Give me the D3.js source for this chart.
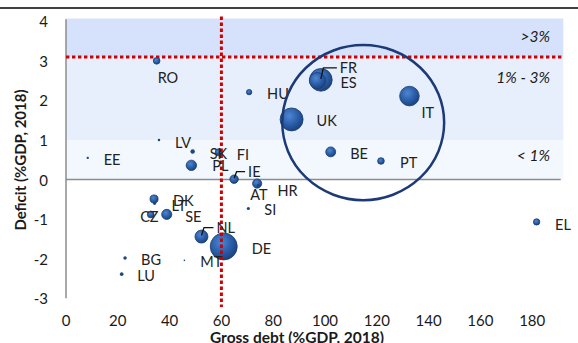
<!DOCTYPE html>
<html>
<head>
<meta charset="utf-8">
<script src="https://cdn.jsdelivr.net/npm/d3@7"></script>
<style>
  html, body { margin: 0; padding: 0; background: #fff; }
  svg { display: block; font-family: Lato, "Open Sans", sans-serif; }
</style>
</head>
<body>
<svg id="chart" width="578" height="343"></svg>
<script>
// EU member states, 2018: gross debt and deficit in % of GDP, bubble size = nominal GDP (bn EUR)
const countries = ["DE","UK","FR","IT","ES","NL","PL","SE","BE","AT","IE","DK","FI","CZ","RO","PT","EL","HU","SK","LU","BG","HR","SI","LT","LV","EE","MT"];
const debt      = [60.9, 87.1, 98.4, 132.6, 97.1, 52.3, 48.4, 38.9, 102.2, 73.8, 64.9, 34.0, 59.0, 32.7, 35.0, 121.6, 181.7, 70.7, 48.9, 21.5, 22.8, 74.3, 70.4, 34.2, 35.9, 8.4, 45.7];
const deficit   = [-1.69, 1.52, 2.52, 2.11, 2.50, -1.44, 0.36, -0.88, 0.70, -0.10, 0.01, -0.49, 0.69, -0.88, 3.0, 0.47, -1.07, 2.21, 0.71, -2.39, -1.98, -0.15, -0.73, -0.60, 1.00, 0.55, -2.04];
const gdp       = [3344, 2420, 2353, 1766, 1208, 774, 496, 471, 450, 386, 324, 298, 234, 207, 203, 202, 185, 131, 90, 60, 55, 51, 46, 45, 29, 26, 12.5];

const xTicks = [0, 20, 40, 60, 80, 100, 120, 140, 160, 180];
const yTicks = [-3, -2, -1, 0, 1, 2, 3, 4];

// deficit bands shaded behind the bubbles
const bandNames = [">3%", "1% - 3%", "< 1%"];
const bandFrom  = [4.07, 3.1, 1.0];
const bandTo    = [3.1, 1.0, 0.0];
const bandFill  = ["#d6e2fb", "#e8effc", "#f3f7fe"];

const debtThreshold = 60;
const deficitThreshold = 3.1;

// label placement (pixel offset from the bubble centre)
const labelOffset = {
  RO:[1,17], EE:[16,2], LV:[16,2], SK:[17,2], FI:[18,2], PL:[21,0], IE:[14,-7.5],
  HR:[19,5], AT:[-7,11], SI:[16,1], NL:[15,-9], DE:[28,2], MT:[16,1], BG:[16,1.5],
  LU:[15.5,1.5], CZ:[-10.5,2.5], SE:[18.5,2.5], LT:[17,2.5], DK:[19,1.5], HU:[18,1.5],
  UK:[25,1], FR:[19,-12], ES:[23,1.5], IT:[12,16.5], BE:[19.5,1.5], PT:[19,1.5], EL:[18.5,2.5]
};
// labels tied to their bubble with a short elbow line
const leaders = ["IE", "NL", "FR"];

const svg = d3.select("#chart");
const x = d3.scaleLinear().domain([0, 192]).range([66, 563.3]);
const y = d3.scaleLinear().domain([-3, 4]).range([298.3, 21.3]);
const r = d3.scaleSqrt().domain([0, 3344]).range([0, 13.5]);

// rule at the top of the panel
svg.append("line").attr("x1", 0).attr("x2", 578).attr("y1", 8).attr("y2", 8)
  .attr("stroke", "#000").attr("stroke-width", 1.5);

const defs = svg.append("defs");
const grad = defs.append("radialGradient").attr("id", "bub")
  .attr("cx", "40%").attr("cy", "35%").attr("r", "65%");
grad.append("stop").attr("offset", "0%").attr("stop-color", "#4f86d2");
grad.append("stop").attr("offset", "60%").attr("stop-color", "#2a5da8");
grad.append("stop").attr("offset", "100%").attr("stop-color", "#1c437f");

// bands
svg.append("g").selectAll("rect").data(bandNames).join("rect")
  .attr("x", x(0)).attr("width", x(192) - x(0))
  .attr("y", (d, i) => y(bandFrom[i]))
  .attr("height", (d, i) => y(bandTo[i]) - y(bandFrom[i]))
  .attr("fill", (d, i) => bandFill[i]);

svg.append("g").selectAll("text").data(bandNames).join("text")
  .attr("x", 550).attr("y", (d, i) => [36, 77, 155][i])
  .attr("text-anchor", "end").attr("dominant-baseline", "central")
  .attr("font-style", "italic").attr("font-size", 15.5).attr("fill", "#1a1a1a")
  .text(d => d);

// axes lines
svg.append("line").attr("x1", x(0)).attr("x2", x(0)).attr("y1", y(4.05)).attr("y2", y(-3))
  .attr("stroke", "#8c8c8c").attr("stroke-width", 1.5);
svg.append("line").attr("x1", x(0)).attr("x2", x(191)).attr("y1", y(0)).attr("y2", y(0))
  .attr("stroke", "#8c8c8c").attr("stroke-width", 1.5);

// tick labels
svg.append("g").selectAll("text").data(yTicks).join("text")
  .attr("x", 48).attr("y", d => y(d)).attr("text-anchor", "end")
  .attr("dominant-baseline", "central").attr("font-size", 15).attr("fill", "#1a1a1a")
  .text(d => d);
svg.append("g").selectAll("text").data(xTicks).join("text")
  .attr("x", d => x(d)).attr("y", 320).attr("text-anchor", "middle")
  .attr("dominant-baseline", "central").attr("font-size", 15).attr("fill", "#1a1a1a")
  .text(d => d);

// axis titles
svg.append("text").attr("x", 297).attr("y", 343).attr("text-anchor", "middle")
  .attr("font-size", 15.5).attr("font-weight", "bold").attr("fill", "#1a1a1a")
  .text("Gross debt (%GDP, 2018)");
svg.append("text").attr("transform", "translate(26,160) rotate(-90)")
  .attr("text-anchor", "middle").attr("font-size", 15).attr("font-weight", "bold")
  .attr("fill", "#1a1a1a").text("Deficit (%GDP, 2018)");

// threshold lines
svg.append("line").attr("x1", x(0)).attr("x2", x(192))
  .attr("y1", y(deficitThreshold)).attr("y2", y(deficitThreshold))
  .attr("stroke", "#d00000").attr("stroke-width", 3).attr("stroke-dasharray", "3.4,2.6");

const data = countries.map((c, i) => ({ c, debt: debt[i], def: deficit[i], gdp: gdp[i] }))
  .sort((a, b) => b.gdp - a.gdp);

// bubbles
svg.append("g").selectAll("circle").data(data).join("circle")
  .attr("cx", d => x(d.debt)).attr("cy", d => y(d.def))
  .attr("r", d => r(d.gdp))
  .attr("fill", d => r(d.gdp) > 2.5 ? "url(#bub)" : "#1f4580")
  .attr("stroke", "#1b3d70").attr("stroke-width", d => r(d.gdp) > 2.5 ? 0.8 : 0);

svg.append("line").attr("x1", x(debtThreshold)).attr("x2", x(debtThreshold))
  .attr("y1", y(4.12)).attr("y2", y(-3.22))
  .attr("stroke", "#d00000").attr("stroke-width", 3).attr("stroke-dasharray", "3.4,2.6");

// leader lines
const byName = Object.fromEntries(data.map(d => [d.c, d]));
svg.append("g").selectAll("path").data(leaders).join("path")
  .attr("d", c => {
    const d = byName[c], cx = x(d.debt), cy = y(d.def), o = labelOffset[c];
    const ty = cy + o[1];
    return `M${cx},${cy - 1}L${cx + 2.5},${ty}L${cx + o[0] - 3},${ty}`;
  })
  .attr("fill", "none").attr("stroke", "#111").attr("stroke-width", 1.3);

// country labels
svg.append("g").selectAll("text").data(data).join("text")
  .attr("x", d => x(d.debt) + labelOffset[d.c][0])
  .attr("y", d => y(d.def) + labelOffset[d.c][1])
  .attr("dominant-baseline", "central").attr("font-size", 14.5).attr("fill", "#222")
  .text(d => d.c);

// countries singled out on the chart
svg.append("ellipse")
  .attr("cx", (x(83.5) + x(146)) / 2).attr("cy", (y(3.4) + y(-0.52)) / 2)
  .attr("rx", (x(146) - x(83.5)) / 2).attr("ry", (y(-0.52) - y(3.4)) / 2)
  .attr("fill", "none").attr("stroke", "#1c3a78").attr("stroke-width", 2.5);
</script>
</body>
</html>
